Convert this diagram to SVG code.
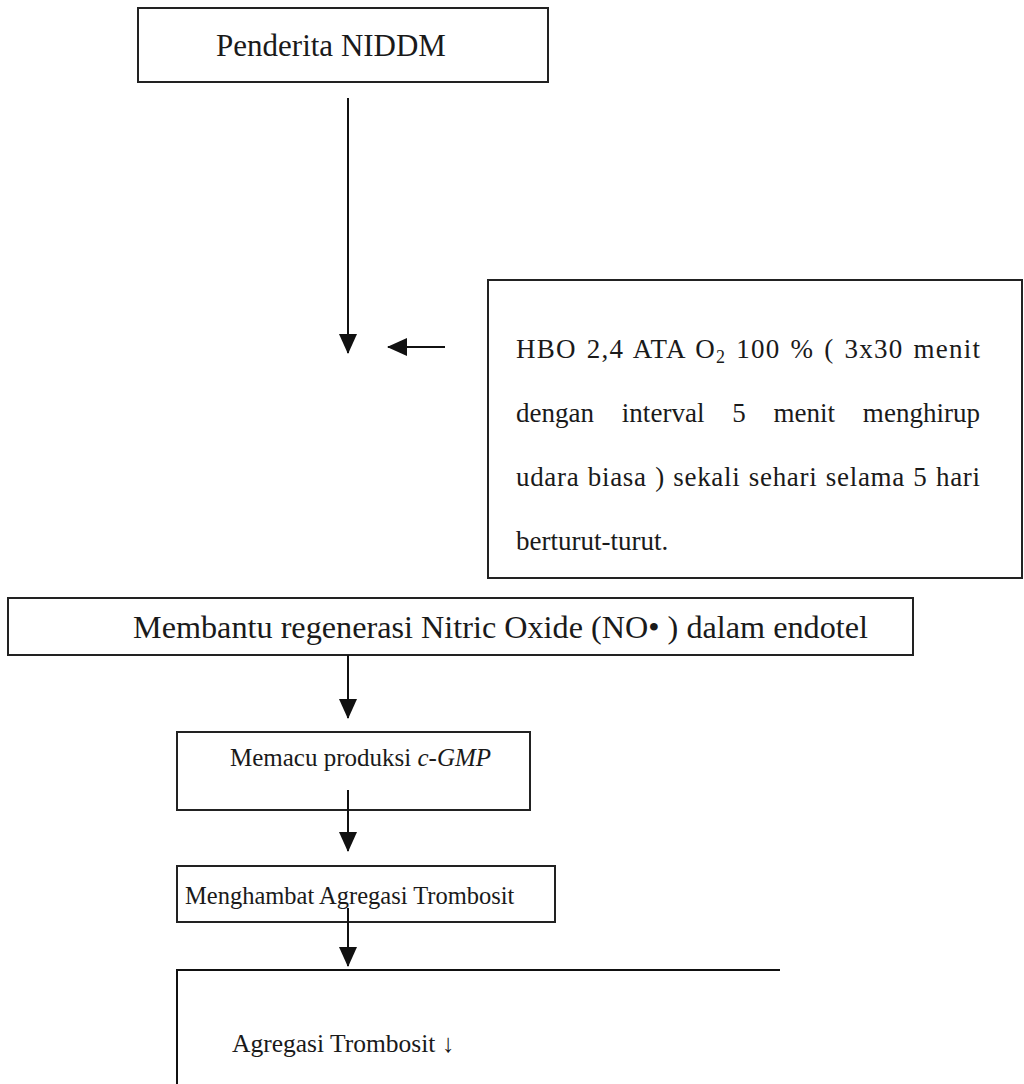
<svg xmlns="http://www.w3.org/2000/svg" width="1024" height="1084" viewBox="0 0 1024 1084">
<style>
.box{fill:#fff;stroke:#222;stroke-width:2}
.t{font-family:"Liberation Serif","Times New Roman",serif;fill:#1a1a1a}
.c{stroke:#111;stroke-width:2;fill:none}
</style>
<defs>
<marker id="ah" markerWidth="20" markerHeight="18" refX="19" refY="9" orient="auto" markerUnits="userSpaceOnUse" viewBox="0 0 20 18">
<path d="M0,0 L20,9 L0,18 z" fill="#111"/>
</marker>
</defs>
<rect width="1024" height="1084" fill="#fff"/>
<g id="n1">
<rect class="box" x="138" y="8" width="410" height="74"/>
<text class="t" x="331" y="56" text-anchor="middle" style="font-size:31px">Penderita NIDDM</text>
</g>
<g id="n2">
<rect class="box" x="488" y="280" width="534" height="298"/>
<text class="t" x="516" y="358" textLength="464" lengthAdjust="spacing" style="font-size:27px;word-spacing:2px">HBO 2,4 ATA O<tspan style="font-size:18px" dy="5">2</tspan><tspan dy="-5"> 100 % ( 3x30 menit</tspan></text>
<text class="t" x="516" y="422" textLength="464" lengthAdjust="spacing" style="font-size:27px;word-spacing:21px">dengan interval 5 menit menghirup</text>
<text class="t" x="516" y="486" textLength="464" lengthAdjust="spacing" style="font-size:27px;word-spacing:1px">udara biasa ) sekali sehari selama 5 hari</text>
<text class="t" x="516" y="550" style="font-size:27px">berturut-turut.</text>
</g>
<g id="n3">
<rect class="box" x="8" y="598" width="905" height="57"/>
<text class="t" x="133" y="638" textLength="735" lengthAdjust="spacingAndGlyphs" style="font-size:31px">Membantu regenerasi Nitric Oxide (NO•  ) dalam endotel</text>
</g>
<g id="n4">
<rect class="box" x="177" y="732" width="353" height="78"/>
<text class="t" x="230" y="766" style="font-size:25px">Memacu produksi <tspan font-style="italic">c-GMP</tspan></text>
</g>
<g id="n5">
<rect class="box" x="177" y="866" width="378" height="56"/>
<text class="t" x="185" y="904" style="font-size:24.5px">Menghambat Agregasi Trombosit</text>
</g>
<g id="n6">
<path class="c" d="M177,1084 L177,970 L780,970"/>
<text class="t" x="232" y="1052" style="font-size:25.5px">Agregasi Trombosit ↓</text>
</g>
<g id="connectors">
<line class="c" x1="348" y1="98" x2="348" y2="353" marker-end="url(#ah)"/>
<line class="c" x1="445" y1="347" x2="388" y2="347" marker-end="url(#ah)"/>
<line class="c" x1="348" y1="655" x2="348" y2="718" marker-end="url(#ah)"/>
<line class="c" x1="348" y1="790" x2="348" y2="851" marker-end="url(#ah)"/>
<line class="c" x1="348" y1="908" x2="348" y2="966" marker-end="url(#ah)"/>
</g>
</svg>
